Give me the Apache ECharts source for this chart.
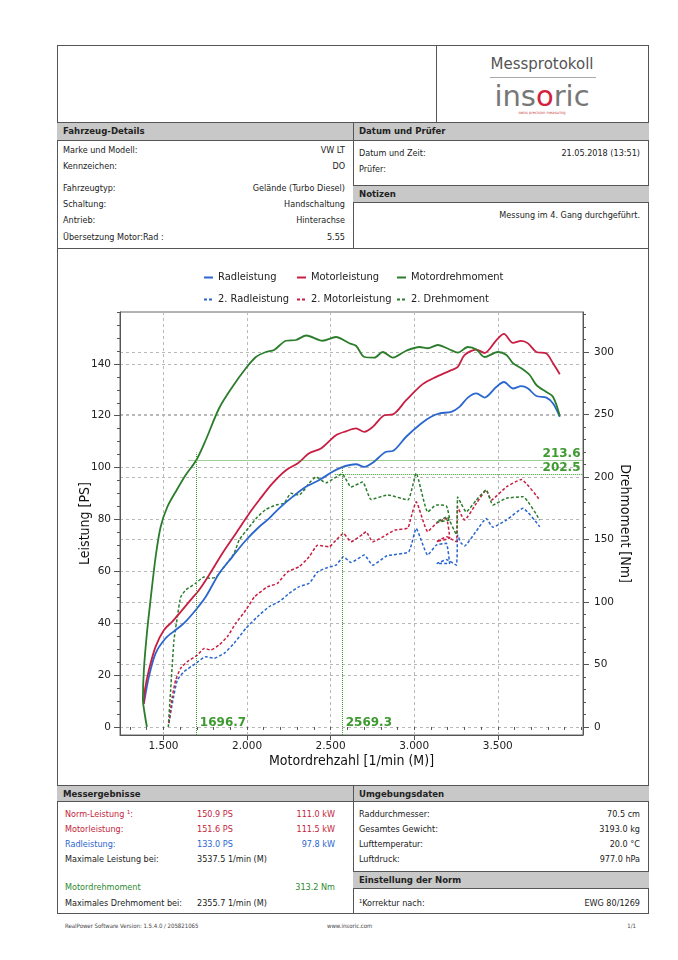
<!DOCTYPE html>
<html><head><meta charset="utf-8">
<script src="https://cdn.jsdelivr.net/npm/echarts@6/dist/echarts.min.js"></script>
<style>
body{margin:0;width:678px;height:960px;background:#fff;position:relative;overflow:hidden;font-family:"DejaVu Sans Condensed","DejaVu Sans",sans-serif}
.a{position:absolute;white-space:nowrap;font-size:9px;line-height:12px;color:#222}
.b{font-weight:bold;font-size:9.5px}
.bar{position:absolute;background:#c8c8c8;border-top:1px solid #555;border-bottom:1px solid #555;box-sizing:border-box}
.hl{position:absolute;height:0;border-top:1px solid #555}
.vl{position:absolute;width:0;border-left:1px solid #555}
.red{color:#c41e3a}.blue{color:#2a66cf}.green{color:#2e8a2e}
#chart{position:absolute;left:0;top:0;width:678px;height:960px}
</style></head><body>
<div style="position:absolute;left:57px;top:45px;width:592px;height:869px;border:1px solid #555;box-sizing:border-box"></div>
<div class="vl" style="left:436px;top:45px;height:77px"></div>
<div class="a" style="left:436px;width:212px;text-align:center;top:54px;font-size:15px;line-height:20px;color:#555;font-family:'DejaVu Sans'">Messprotokoll</div>
<div class="hl" style="left:490px;top:77px;width:106px;border-color:#aaa"></div>
<div class="a" style="left:436px;width:212px;text-align:center;top:79px;font-size:29px;line-height:34px;color:#777;font-family:'DejaVu Sans'">ins<span style="color:#d4213d">o</span>ric</div>
<div class="a" style="left:436px;width:212px;text-align:center;top:110px;font-size:4px;line-height:5px;color:#c44">swiss precision measuring</div>

<div class="bar" style="left:57px;top:122px;width:592px;height:19px"></div>
<div class="vl" style="left:353px;top:122px;height:126px"></div>
<div class="a b" style="left:63px;top:125px">Fahrzeug-Details</div>
<div class="a b" style="left:359px;top:125px">Datum und Prüfer</div>
<div class="a" style="left:63px;top:144px">Marke und Modell:</div><div class="a" style="right:333px;top:144px">VW LT</div>
<div class="a" style="left:63px;top:160px">Kennzeichen:</div><div class="a" style="right:333px;top:160px">DO</div>
<div class="a" style="left:63px;top:182px">Fahrzeugtyp:</div><div class="a" style="right:333px;top:182px">Gelände (Turbo Diesel)</div>
<div class="a" style="left:63px;top:198px">Schaltung:</div><div class="a" style="right:333px;top:198px">Handschaltung</div>
<div class="a" style="left:63px;top:214px">Antrieb:</div><div class="a" style="right:333px;top:214px">Hinterachse</div>
<div class="a" style="left:63px;top:231px">Übersetzung Motor:Rad :</div><div class="a" style="right:333px;top:231px">5.55</div>
<div class="a" style="left:359px;top:147px">Datum und Zeit:</div><div class="a" style="right:38px;top:147px">21.05.2018 (13:51)</div>
<div class="a" style="left:359px;top:163px">Prüfer:</div>
<div class="bar" style="left:353px;top:185px;width:296px;height:18px"></div>
<div class="a b" style="left:359px;top:188px">Notizen</div>
<div class="a" style="right:38px;top:209px">Messung im 4. Gang durchgeführt.</div>
<div class="hl" style="left:57px;top:248px;width:592px"></div>

<div class="bar" style="left:57px;top:785px;width:592px;height:17px"></div>
<div class="vl" style="left:353px;top:785px;height:128px"></div>
<div class="a b" style="left:63px;top:788px">Messergebnisse</div>
<div class="a b" style="left:359px;top:788px">Umgebungsdaten</div>
<div class="a red" style="left:65px;top:808px">Norm-Leistung ¹:</div><div class="a red" style="left:197px;top:808px">150.9 PS</div><div class="a red" style="right:343px;top:808px">111.0 kW</div>
<div class="a red" style="left:65px;top:823px">Motorleistung:</div><div class="a red" style="left:197px;top:823px">151.6 PS</div><div class="a red" style="right:343px;top:823px">111.5 kW</div>
<div class="a blue" style="left:65px;top:838px">Radleistung:</div><div class="a blue" style="left:197px;top:838px">133.0 PS</div><div class="a blue" style="right:343px;top:838px">97.8 kW</div>
<div class="a" style="left:65px;top:853px">Maximale Leistung bei:</div><div class="a" style="left:197px;top:853px">3537.5 1/min (M)</div>
<div class="a green" style="left:65px;top:881px">Motordrehmoment</div><div class="a green" style="right:343px;top:881px">313.2 Nm</div>
<div class="a" style="left:65px;top:897px">Maximales Drehmoment bei:</div><div class="a" style="left:197px;top:897px">2355.7 1/min (M)</div>
<div class="a" style="left:359px;top:808px">Raddurchmesser:</div><div class="a" style="right:38px;top:808px">70.5 cm</div>
<div class="a" style="left:359px;top:823px">Gesamtes Gewicht:</div><div class="a" style="right:38px;top:823px">3193.0 kg</div>
<div class="a" style="left:359px;top:838px">Lufttemperatur:</div><div class="a" style="right:38px;top:838px">20.0 °C</div>
<div class="a" style="left:359px;top:853px">Luftdruck:</div><div class="a" style="right:38px;top:853px">977.0 hPa</div>
<div class="bar" style="left:353px;top:871px;width:296px;height:18px"></div>
<div class="a b" style="left:359px;top:874px">Einstellung der Norm</div>
<div class="a" style="left:359px;top:897px">¹Korrektur nach:</div><div class="a" style="right:38px;top:897px">EWG 80/1269</div>
<div class="a" style="left:65px;top:922px;font-size:6px;line-height:8px;color:#444">RealPower Software Version: 1.5.4.0 / 205821065</div>
<div class="a" style="left:327px;top:922px;font-size:6px;line-height:8px;color:#444">www.insoric.com</div>
<div class="a" style="right:42px;top:922px;font-size:6px;line-height:8px;color:#444">1/1</div>

<div id="chart"></div>
<script>
// ---- data (rpm, value) ----
const radleistung = [[1383,9],[1413,19.4],[1453,28.4],[1513,34.2],[1573,37.4],[1623,40],[1693,45.1],[1753,50.2],[1833,59.2],[1912,65.6],[1993,72],[2073,77.2],[2132,80.4],[2192,84.3],[2272,88.7],[2352,92.6],[2432,95.2],[2512,98.4],[2572,100.3],[2652,101.3],[2702,100.3],[2752,101.9],[2832,106.1],[2872,106.4],[2952,111.9],[3042,117],[3101,119.6],[3152,120.9],[3222,121.5],[3271,123.4],[3321,127],[3372,128.6],[3421,127],[3491,131.1],[3537,133],[3591,130.5],[3641,131.4],[3681,130.5],[3731,127.6],[3791,127],[3831,124.7],[3871,119.6]];
const motorleistung = [[1383,9],[1389,14.3],[1413,22],[1453,31],[1503,37.4],[1553,40.6],[1603,44.4],[1663,49],[1713,52.8],[1773,58.6],[1853,67],[1933,74.6],[2013,82.3],[2073,87.5],[2152,93.9],[2233,99],[2302,101.6],[2372,105.5],[2442,107.4],[2532,112.5],[2592,114],[2652,115.1],[2702,113.8],[2752,115.7],[2822,120.2],[2872,120.5],[2952,126],[3051,132.2],[3132,135],[3212,137.3],[3261,138.8],[3301,143.4],[3372,145.5],[3421,144.2],[3491,149.1],[3537,151.6],[3591,148.1],[3641,148.9],[3681,147.9],[3731,144.6],[3791,144],[3831,140.2],[3871,136]];
const motordrehmoment = [[1401,0],[1386,12],[1377,22],[1383,46],[1401,75],[1423,102],[1453,136],[1483,160],[1523,176],[1581,190],[1633,201.6],[1697,213.6],[1753,229.6],[1833,255],[1912,272],[1993,287],[2053,296],[2113,300],[2162,301.6],[2233,309],[2293,309.6],[2355,313.2],[2452,309],[2532,312],[2612,307],[2652,305],[2702,296],[2762,295.5],[2812,300],[2872,295.5],[2952,301],[3032,304],[3081,303],[3141,305.6],[3212,302],[3261,299.5],[3321,304],[3372,302],[3421,296],[3501,300],[3552,297.6],[3591,291],[3641,287],[3691,281.6],[3731,273.6],[3791,268],[3831,264],[3871,249]];
const radleistung2 = [[1533,1.5],[1553,9.1],[1583,18.1],[1623,21.3],[1693,24.5],[1753,27.1],[1803,26.5],[1863,28.4],[1923,32.3],[1993,38],[2062,42.5],[2132,46.4],[2192,48.3],[2252,51.5],[2312,54.1],[2372,55.4],[2422,59.8],[2482,61.5],[2532,62.4],[2577,65.6],[2622,63.4],[2702,66.3],[2752,62.4],[2837,66],[2967,67.5],[3012,76.5],[3081,66.3],[3132,70.1],[3192,70.8],[3212,63],[3135,63],[3195,64.5],[3252,62.4],[3260,74],[3280,71],[3301,69.8],[3372,75.6],[3431,80.4],[3471,77],[3552,79.8],[3651,84.3],[3751,77.2]];
const motorleistung2 = [[1533,1.5],[1553,11.7],[1573,18.1],[1603,22.6],[1643,25.2],[1703,27.7],[1743,30.3],[1783,29.7],[1833,31.6],[1882,34.8],[1933,40],[1993,45.1],[2045,50.2],[2122,54],[2182,55.4],[2242,59.8],[2312,61.8],[2372,65.6],[2422,70.1],[2492,69.5],[2532,72],[2577,74.6],[2622,71.4],[2692,74.3],[2712,75.3],[2752,71.4],[2832,74],[2882,75.9],[2962,76.7],[2982,81],[3012,86.8],[3081,75.3],[3132,78.5],[3192,80.4],[3212,73],[3135,71.5],[3195,73.3],[3252,71.4],[3260,85],[3280,82],[3301,79.8],[3372,86.2],[3431,91.3],[3461,87.5],[3552,92.6],[3641,95.4],[3751,87.5]];
const drehmoment2 = [[1529,0],[1543,29.6],[1563,69.6],[1583,88],[1603,104],[1633,109.6],[1693,115],[1743,120],[1773,119],[1813,119.7],[1863,128],[1923,139],[1953,149.6],[2013,160],[2062,168],[2113,174],[2173,177.6],[2222,179],[2262,187],[2312,185.6],[2372,195],[2412,200],[2472,195.4],[2569,202.5],[2622,192],[2692,196],[2742,182],[2842,185.6],[2962,181.6],[3012,203],[3081,172],[3132,177.6],[3192,177],[3212,166],[3135,164],[3195,168],[3252,154],[3260,184],[3280,179],[3311,172],[3372,181.6],[3431,189.6],[3471,177.6],[3552,183],[3651,184.2],[3751,165.6]];

const seriesNames = ['Radleistung','Motorleistung','Motordrehmoment','2. Radleistung','2. Motorleistung','2. Drehmoment'];
const psTickValues = [0,20,40,60,80,100,120,140];
const nmTickValues = [0,50,100,150,200,250,300];
const rpmTickValues = [1500,2000,2500,3000,3500];
const marker1 = {rpm:1696.7, nm:213.6};
const marker2 = {rpm:2569.3, nm:202.5};

// ---- layout / style ----
const RPM_MIN=1240, RPM_MAX=4010, PS_MIN=-3.1, PS_MAX=160, NM_MIN=-6.4, NM_MAX=332;
const psMinor=[],nmMinor=[],rpmMinor=[];
for(let v=0;v<=160;v+=5)psMinor.push(v);
for(let v=0;v<=330;v+=10)nmMinor.push(v);
for(let v=1300;v<=4000;v+=100)rpmMinor.push(v);
const FONT='DejaVu Sans';
const FONTC='DejaVu Sans Condensed';
const C_BLUE='#2a66cf',C_RED='#c81e42',C_GREEN='#2b7d2b',C_MARK='#3d9a2f';
const axisCol='#555';
const grid={show:true,lineStyle:{color:'#b8b8b8',type:[3,3],width:1}};
const lbl={color:'#222',fontSize:10.5,fontFamily:FONT};
const nameStyle={color:'#111',fontSize:14,fontFamily:FONTC};

function mk(name,data,color,yIdx,dashed){
  return {name,type:'line',data,xAxisIndex:0,yAxisIndex:yIdx,showSymbol:false,symbol:'none',
    smooth:dashed?0.15:0.3,color,
    lineStyle:{color,width:dashed?1.5:1.8,type:dashed?[3,2]:'solid'},z:dashed?3:4};
}
const markStyle={color:C_MARK,type:'dotted',width:1};
const markLabel={show:true,color:C_MARK,fontWeight:'bold',fontSize:12,fontFamily:FONT,formatter:'{c}'};
function markers(m,overshootNm,startRpm){
  return {
    markLine:{silent:true,symbol:['none','none'],label:{show:false},lineStyle:markStyle,animation:false,
      data:[[{coord:[m.rpm,NM_MIN]},{coord:[m.rpm,m.nm+overshootNm]}],
            [{coord:[startRpm,m.nm]},{coord:[RPM_MAX,m.nm]}]]},
    markPoint:{silent:true,symbol:'rect',symbolSize:1,itemStyle:{color:'rgba(0,0,0,0)'},animation:false,
      data:[{coord:[m.rpm,NM_MIN],value:m.rpm,label:Object.assign({},markLabel,{position:[4,-18],align:'left',verticalAlign:'top'})},
            {coord:[RPM_MAX,m.nm],value:m.nm,label:Object.assign({},markLabel,{position:[-2,-12],align:'right',verticalAlign:'top'})}]}
  };
}

const s = [
  mk(seriesNames[0],radleistung,C_BLUE,0,false),
  mk(seriesNames[1],motorleistung,C_RED,0,false),
  Object.assign(mk(seriesNames[2],motordrehmoment,C_GREEN,1,false),markers(marker1,6,1650)),
  mk(seriesNames[3],radleistung2,C_BLUE,0,true),
  mk(seriesNames[4],motorleistung2,C_RED,0,true),
  Object.assign(mk(seriesNames[5],drehmoment2,C_GREEN,1,true),markers(marker2,6,2525)),
];

const legCols=[203,296,396], legRows=[272,294];
const legends = seriesNames.map((n,i)=>({data:[n],left:legCols[i%3],top:legRows[Math.floor(i/3)],
  itemWidth:9,itemHeight:8,itemGap:0,selectedMode:false,padding:0,
  itemStyle:{opacity:0},
  textStyle:{color:'#222',fontSize:11,fontFamily:FONTC,padding:[0,0,0,0]}}));

const option = {
  animation:false,
  grid:{left:120,top:312,width:463,height:423,show:true,borderColor:'#666',borderWidth:1,containLabel:false},
  legend:legends,
  xAxis:[
    {type:'value',min:RPM_MIN,max:RPM_MAX,position:'bottom',
     axisLine:{show:true,onZero:false,lineStyle:{color:axisCol}},
     axisTick:{show:true,length:5,customValues:rpmTickValues,lineStyle:{color:axisCol}},
     axisLabel:Object.assign({customValues:rpmTickValues,margin:6,formatter:v=>(v/1000).toFixed(3)},lbl),
     splitLine:grid,
     name:'Motordrehzahl [1/min (M)]',nameLocation:'middle',nameGap:19,nameTextStyle:nameStyle},
    {type:'value',min:RPM_MIN,max:RPM_MAX,position:'bottom',
     axisLine:{show:false},axisTick:{show:true,length:3,customValues:rpmMinor,lineStyle:{color:axisCol}},
     axisLabel:{show:false},splitLine:{show:false}}
  ],
  yAxis:[
    {type:'value',min:PS_MIN,max:PS_MAX,position:'left',
     axisLine:{show:true,onZero:false,lineStyle:{color:axisCol}},
     axisTick:{show:true,length:6,customValues:psTickValues,lineStyle:{color:axisCol}},
     axisLabel:Object.assign({customValues:psTickValues,margin:9},lbl),
     splitLine:grid,name:'Leistung [PS]',nameLocation:'middle',nameGap:28,nameMoveOverlap:false,nameTextStyle:nameStyle},
    {type:'value',min:NM_MIN,max:NM_MAX,position:'right',
     axisLine:{show:true,onZero:false,lineStyle:{color:axisCol}},
     axisTick:{show:true,length:6,customValues:nmTickValues,lineStyle:{color:axisCol}},
     axisLabel:Object.assign({customValues:nmTickValues,margin:11},lbl),
     splitLine:grid,name:'Drehmoment [Nm]',nameLocation:'middle',nameGap:35,nameMoveOverlap:false,nameRotate:-90,nameTextStyle:nameStyle},
    {type:'value',min:PS_MIN,max:PS_MAX,position:'left',axisLine:{show:false},
     axisTick:{show:true,length:3,customValues:psMinor,lineStyle:{color:axisCol}},axisLabel:{show:false},splitLine:{show:false}},
    {type:'value',min:NM_MIN,max:NM_MAX,position:'right',axisLine:{show:false},
     axisTick:{show:true,length:3,customValues:nmMinor,lineStyle:{color:axisCol}},axisLabel:{show:false},splitLine:{show:false}}
  ],
  series:s
};
const chart = echarts.init(document.getElementById('chart'),null,{renderer:'canvas'});
chart.setOption(option);
</script>
</body></html>
